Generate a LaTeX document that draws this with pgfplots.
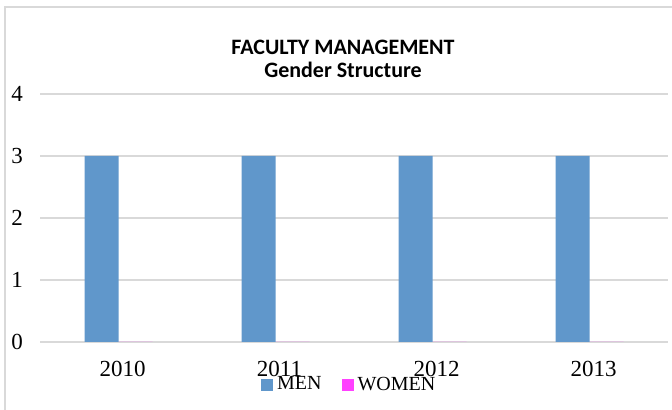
\documentclass[border=0pt]{standalone}
\usepackage{pgfplots}
\pgfplotsset{compat=1.18}
\usepackage{fontspec}
\setmainfont{Liberation Serif}
\newfontfamily\titlefont{Carlito}
\definecolor{menblue}{HTML}{6097CB}
\definecolor{womenpink}{HTML}{FF40FF}
\definecolor{gridgray}{HTML}{D9D9D9}
\begin{document}
\begin{tikzpicture}
\clip (0,0) rectangle (336pt,205pt);
\useasboundingbox (0,0) rectangle (336pt,205pt);
\draw[gridgray, line width=0.9pt] (2.5pt,-10pt) -- (2.5pt,201.5pt) -- (345pt,201.5pt);
\begin{axis}[
  at={(20pt,34pt)}, anchor=south west,
  scale only axis, width=314pt, height=124pt,
  xmin=-0.5, xmax=3.5, ymin=0, ymax=4,
  axis line style={draw=none},
  ymajorgrids, grid style={gridgray, line width=0.9pt},
  major tick length=0pt,
  xtick={0,1,2,3}, xticklabels={2010,2011,2012,2013},
  ytick={0,1,2,3,4},
  /pgf/number format/assume math mode=true,
  tick label style={font=\fontsize{11.5}{13}\selectfont},
  yticklabel style={xshift=-5pt},
  xticklabel style={yshift=-6pt, xshift=2pt},
  ybar, bar width=17pt,
  legend style={at={(0.494,-0.173)}, anchor=center, draw=none, fill=none,
    font=\fontsize{10}{12}\selectfont, legend columns=2,
    /tikz/every even column/.append style={column sep=8pt}},
  legend cell align=left,
]
\addplot[fill=menblue, draw=none, bar shift=-8.5pt,
  legend image code/.code={\fill[menblue] (0pt,-3pt) rectangle (6pt,3pt);}]
  coordinates {(0,3) (1,3) (2,3) (3,3)};
\addlegendentry{MEN}
\addplot[fill=womenpink, draw=none, bar shift=8.5pt,
  legend image code/.code={\fill[womenpink] (0pt,-3pt) rectangle (6pt,3pt);}]
  coordinates {(0,0) (1,0) (2,0) (3,0)};
\addlegendentry{WOMEN}
\end{axis}
\node[font=\titlefont\bfseries\fontsize{11}{11.5}\selectfont, align=center] at (171.5pt,181.5pt) {FACULTY MANAGEMENT};
\node[font=\titlefont\bfseries\fontsize{11}{11.5}\selectfont, align=center] at (171.5pt,170pt) {Gender Structure};
\end{tikzpicture}
\end{document}
